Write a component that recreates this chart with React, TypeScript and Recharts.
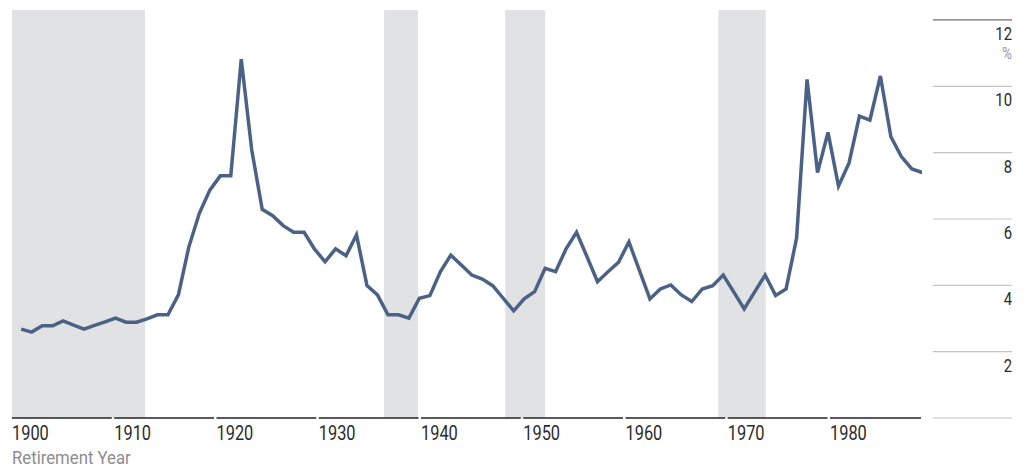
import { LineChart, Line, XAxis, YAxis, ReferenceArea } from 'recharts';

// retirement years on the line (one point per year)
const firstYear = 1900;
const rates = [
  2.68, 2.59, 2.78, 2.78, 2.93, 2.8, 2.68, 2.79, 2.9, 3.01,
  2.89, 2.89, 2.99, 3.11, 3.11, 3.71, 5.16, 6.17, 6.87, 7.3,
  7.3, 10.82, 8.08, 6.29, 6.1, 5.8, 5.6, 5.6, 5.09, 4.71,
  5.1, 4.89, 5.52, 3.99, 3.71, 3.11, 3.11, 3.01, 3.61, 3.69,
  4.41, 4.91, 4.61, 4.31, 4.19, 3.99, 3.61, 3.23, 3.59, 3.81,
  4.51, 4.41, 5.1, 5.6, 4.86, 4.11, 4.41, 4.69, 5.31, 4.45,
  3.59, 3.89, 4.01, 3.71, 3.51, 3.89, 3.99, 4.31, 3.8, 3.29,
  3.8, 4.31, 3.69, 3.89, 5.42, 10.21, 7.4, 8.61, 6.99, 7.68,
  9.1, 8.98, 10.31, 8.48, 7.88, 7.51, 7.4,
];
const years = rates.map((_, i) => firstYear + i);

const decadeTicks = [1900, 1910, 1920, 1930, 1940, 1950, 1960, 1970, 1980];
const yTicks = [0, 2, 4, 6, 8, 10, 12];

// grey periods, in line years
const shadedBands: [number, number][] = [
  [1899.12, 1911.82],
  [1934.63, 1937.87],
  [1946.18, 1950.0],
  [1966.53, 1971.05],
];

const data = years.map((year, i) => ({ year, rate: rates[i] }));

const W = 1027;
const H = 469;
const LEFT = 12;
const Y_AXIS_W = 105;
const PLOT_RIGHT = W - Y_AXIS_W;
const LABEL_DOMAIN: [number, number] = [1900, 1989];
const LINE_DOMAIN: [number, number] = [1899.12, 1985.97];
const DECADE_PX = ((PLOT_RIGHT - LEFT) / (LABEL_DOMAIN[1] - LABEL_DOMAIN[0])) * 10;

// no condensed face installed, so Roboto gets squeezed
const FONT = 'Roboto, "Liberation Sans", sans-serif';

const DecadeTick = (props: any) => {
  const { x, y, payload } = props;
  const end = Math.min(x + DECADE_PX - 2.5, PLOT_RIGHT - 1);
  return (
    <g>
      <line x1={x} x2={end} y1={y} y2={y} stroke="#222" strokeWidth={1.6} />
      <text
        transform={`translate(${x},${y + 22}) scale(0.78,1)`}
        fontSize={21}
        fill="#2b2b2b"
        fontFamily={FONT}
      >
        {payload.value}
      </text>
    </g>
  );
};

const RateTick = (props: any) => {
  const { x, y, payload } = props;
  const v = payload.value;
  return (
    <g>
      <line
        x1={x + 11}
        x2={x + 90}
        y1={y}
        y2={y}
        stroke={v === 12 ? '#6f6f6f' : '#c4c4c4'}
        strokeWidth={1.2}
      />
      {v !== 0 && (
        <text
          transform={`translate(${x + 90},${y + 20}) scale(0.78,1)`}
          fontSize={19}
          fill="#2b2b2b"
          textAnchor="end"
          fontFamily={FONT}
        >
          {v}
        </text>
      )}
      {v === 12 && (
        <text
          transform={`translate(${x + 90},${y + 39}) scale(0.8,1)`}
          fontSize={17}
          fill="#9a9a9a"
          textAnchor="end"
          fontFamily={FONT}
        >
          %
        </text>
      )}
    </g>
  );
};

export default function App() {
  return (
    <div style={{ position: 'absolute', left: 0, top: 0, width: W, height: H, background: '#fff' }}>
      <LineChart
        width={W}
        height={H}
        data={data}
        margin={{ top: 10, right: 0, bottom: 0, left: LEFT }}
      >
        <XAxis
          xAxisId="line"
          dataKey="year"
          type="number"
          domain={LINE_DOMAIN}
          allowDataOverflow
          hide
        />
        <XAxis
          xAxisId="labels"
          dataKey="year"
          type="number"
          domain={LABEL_DOMAIN}
          allowDataOverflow
          ticks={decadeTicks}
          interval={0}
          height={51}
          axisLine={false}
          tickLine={false}
          tickSize={0}
          tickMargin={0}
          tick={<DecadeTick />}
          label={{
            content: (p: any) => (
              <text
                transform={`translate(${p.viewBox.x},${p.viewBox.y + 46}) scale(0.93,1)`}
                fontSize={18}
                fill="#8d8d8d"
                fontFamily={FONT}
              >
                Retirement Year
              </text>
            ),
          }}
        />
        <YAxis
          orientation="right"
          type="number"
          domain={[0, 12.3]}
          ticks={yTicks}
          interval={0}
          width={Y_AXIS_W}
          axisLine={false}
          tickLine={false}
          tickSize={0}
          tickMargin={0}
          tick={<RateTick />}
        />
        {shadedBands.map(([a, b]) => (
          <ReferenceArea
            key={a}
            xAxisId="line"
            x1={a}
            x2={b}
            fill="#e1e2e4"
            fillOpacity={1}
            stroke="none"
            ifOverflow="visible"
          />
        ))}
        <Line
          xAxisId="line"
          dataKey="rate"
          stroke="#4b6286"
          strokeWidth={3.5}
          dot={false}
          activeDot={false}
          isAnimationActive={false}
        />
      </LineChart>
    </div>
  );
}
